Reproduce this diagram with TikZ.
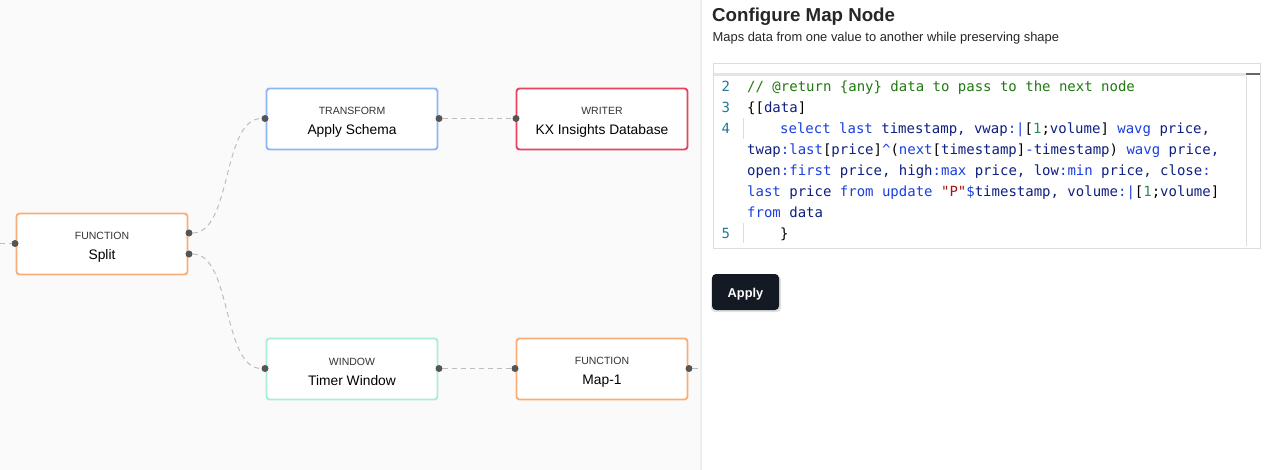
\documentclass[tikz,border=0pt]{standalone}
\usepackage{fontspec}
\setmainfont{Liberation Sans}
\newfontfamily\codefont{DejaVu Sans Mono}
\usetikzlibrary{positioning}
\definecolor{panelbg}{HTML}{FAFAFA}
\definecolor{divider}{HTML}{EEEEEE}
\definecolor{orangebox}{HTML}{F9AE78}
\definecolor{bluebox}{HTML}{8DB6F7}
\definecolor{redbox}{HTML}{E8425F}
\definecolor{greenbox}{HTML}{A8EDD8}
\definecolor{portgray}{HTML}{555555}
\definecolor{linkgray}{HTML}{BDBDBD}
\definecolor{gridline}{HTML}{DDDDDD}
\definecolor{lnum}{HTML}{237893}
\definecolor{cmt}{HTML}{1F7A0F}
\definecolor{kwd}{HTML}{1A3FE0}
\definecolor{idn}{HTML}{0F1F80}
\definecolor{strg}{HTML}{A31515}
\definecolor{numb}{HTML}{2E8B57}
\definecolor{btn}{HTML}{141A24}
\newcommand{\kw}[1]{\textcolor{kwd}{#1}}
\newcommand{\idn}[1]{\textcolor{idn}{#1}}
\newcommand{\boxlabel}[2]{{\fontsize{10.5}{12}\selectfont\color{black!80}\rule{0pt}{13pt}#1}\\[8pt]{\fontsize{13.8}{16}\selectfont #2}}
\tikzset{
	flowbox/.style={draw,rounded corners=3pt,line width=1.9pt,fill=white,minimum width=171pt,minimum height=61pt,align=center,inner sep=0pt},
	port/.style={circle,fill=portgray,inner sep=0pt,minimum size=7pt},
	link/.style={draw=linkgray,dashed,dash pattern=on 5pt off 4pt,line width=1pt},
	codeline/.style={anchor=base west,inner sep=0pt,font=\codefont\fontsize{14}{16}\selectfont,text=black},
	linenum/.style={codeline,text=lnum}
}
\begin{document}
\begin{tikzpicture}[x=1pt,y=-1pt,line join=round]
	\useasboundingbox (0,0) rectangle (1273,470);
	\fill[white] (0,0) rectangle (1273,470);
	\fill[panelbg] (0,0) rectangle (700,470);
	\fill[divider] (700,0) rectangle (702,470);
	% graph
	\node[flowbox,draw=orangebox] (split) at (102,244) {\boxlabel{FUNCTION}{Split}};
	\node[flowbox,draw=bluebox] (schema) at (352,119) {\boxlabel{TRANSFORM}{Apply Schema}};
	\node[flowbox,draw=redbox] (writer) at (602,119) {\boxlabel{WRITER}{KX Insights Database}};
	\node[flowbox,draw=greenbox] (timer) at (352,369) {\boxlabel{WINDOW}{Timer Window}};
	\node[flowbox,draw=orangebox] (map) at (602,369) {\boxlabel{FUNCTION}{Map-1}};
	\node[port] (splitin) at (15,243.5) {};
	\node[port] (splitup) at (189,233) {};
	\node[port] (splitdown) at (189,254) {};
	\node[port] (schemain) at (265,118.5) {};
	\node[port] (schemaout) at (439,118.5) {};
	\node[port] (writerin) at (516,118.5) {};
	\node[port] (timerin) at (265,368.5) {};
	\node[port] (timerout) at (439,368.5) {};
	\node[port] (mapin) at (515,368.5) {};
	\node[port] (mapout) at (689,368.5) {};
	\coordinate (leftend) at (0,243.5);
	\coordinate (rightend) at (700,368.5);
	\draw[link] (leftend)--(splitin);
	\draw[link] (splitup) to[out=0,in=180,looseness=0.75] (schemain);
	\draw[link] (splitdown) to[out=0,in=180,looseness=0.75] (timerin);
	\draw[link] (schemaout)--(writerin);
	\draw[link] (timerout)--(mapin);
	\draw[link] (mapout)--(rightend);
	% right panel
	\node[anchor=base west,inner sep=0pt,font=\bfseries\fontsize{18.7}{22}\selectfont,text=black!85] (title) at (712,22) {Configure Map Node};
	\node[anchor=base west,inner sep=0pt,font=\fontsize{12.9}{15}\selectfont,text=black!85] (subtitle) at (712.5,42) {Maps data from one value to another while preserving shape};
	\draw[gridline] (713,63) rectangle (1260.5,248);
	\fill[black!10] (714,73) rectangle (1246,76);
	\draw[gridline] (743,118)--(743,139) (743,223)--(743,243);
	\draw[gridline] (1246,76)--(1246,246);
	\fill[black!60] (1246,73.5) rectangle (1260,75);
	\foreach \n/\y in {2/91.5,3/112.5,4/133.5,5/238.5}{
		\node[linenum] (num\n) at (721.5,\y) {\n};}
	\node[codeline] (codea) at (747,91.5) {\textcolor{cmt}{// @return \{any\} data to pass to the next node}};
	\node[codeline] (codeb) at (747,112.5) {\{[\idn{data}]};
	\node[codeline] (codec) at (780,133.5) {\kw{select last} \idn{timestamp, vwap}\kw{:|}[\textcolor{numb}{1};\idn{volume}] \kw{wavg} \idn{price,}};
	\node[codeline] (coded) at (747,154.5) {\idn{twap}\kw{:last}[\idn{price}]\kw{\char`\^}(\kw{next}[\idn{timestamp}]\kw{-}\idn{timestamp}) \kw{wavg} \idn{price,}};
	\node[codeline] (codee) at (747,175.5) {\idn{open}\kw{:first} \idn{price, high}\kw{:max} \idn{price, low}\kw{:min} \idn{price, close}\kw{:}};
	\node[codeline] (codef) at (747,196.5) {\kw{last} \idn{price} \kw{from update} \textcolor{strg}{"P"}\kw{\$}\idn{timestamp, volume}\kw{:|}[\textcolor{numb}{1};\idn{volume}]};
	\node[codeline] (codeg) at (747,217.5) {\kw{from} \idn{data}};
	\node[codeline] (codeh) at (780,238.5) {\}};
	% button
	\fill[black!12,rounded corners=4pt] (711,276) rectangle (781,312);
	\node[fill=btn,rounded corners=4pt,minimum width=67pt,minimum height=36pt,inner sep=0pt,text=white,text height=11pt,text depth=1pt,font=\bfseries\fontsize{12.8}{16}\selectfont] (apply) at (745.5,292) {Apply};
\end{tikzpicture}
\end{document}
